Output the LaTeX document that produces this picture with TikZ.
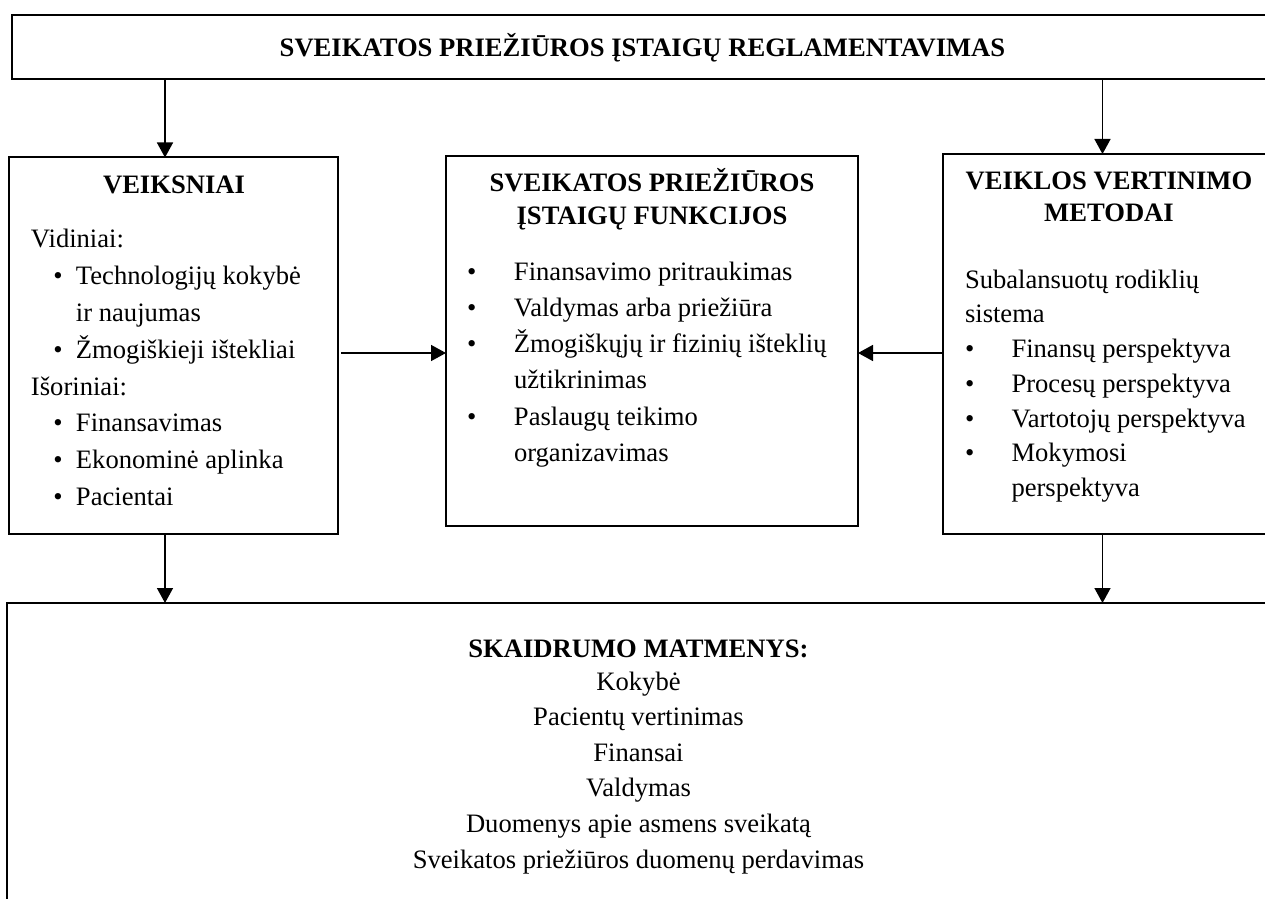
\documentclass[tikz,border=0pt]{standalone}
\usepackage{fontspec}
\setmainfont{Liberation Serif}
\usetikzlibrary{arrows.meta}

\newcommand\bodysize{\fontsize{13.3pt}{17.75pt}\selectfont}
% stacked lines with a fixed baseline distance (first line is the baseline of the box)
\newcommand\rowsL[2]{\vtop{\baselineskip=#1\lineskiplimit=-30pt\lineskip=0pt\halign{##\hfil\cr#2\crcr}}}
\newcommand\rowsC[2]{\vtop{\baselineskip=#1\lineskiplimit=-30pt\lineskip=0pt\halign{\hfil##\hfil\cr#2\crcr}}}
% bullet: indent, then bullet in a slot of given width
\newcommand\bitem[2]{\kern#1\makebox[#2][l]{\textbullet}}

\tikzset{
  box/.style={draw, line width=1pt, inner sep=0pt, outer sep=0pt, anchor=north west},
  conn/.style={line width=0.75pt, -{Triangle[length=7.5pt,width=8pt]}},
  txt/.style={inner sep=0pt, outer sep=0pt, font=\bodysize},
  head/.style={txt, font=\bodysize\bfseries},
}

\begin{document}
\begin{tikzpicture}[x=0.5pt, y=-0.5pt]
\useasboundingbox (0,0) rectangle (1265,899);
\clip (0,0) rectangle (1265,899);

% frames
\node[box, minimum width=634pt, minimum height=32pt] (top) at (12,15) {};
\node[box, minimum width=164.5pt, minimum height=188.25pt] (left) at (9,157.5) {};
\node[box, minimum width=206pt, minimum height=185pt] (mid) at (446,156) {};
\node[box, minimum width=168.5pt, minimum height=190pt] (right) at (943,154) {};
\node[box, line width=1.2pt, minimum width=636.5pt, minimum height=163.5pt] (bottom) at (7,603) {};

% header
\node[head, anchor=base] (toptxt) at (642.5,56.7)
  {SVEIKATOS PRIEŽIŪROS ĮSTAIGŲ REGLAMENTAVIMAS};

% factors
\node[head, anchor=base] (lefttitle) at (174,193) {VEIKSNIAI};
\node[txt, anchor=base west] (leftlist) at (31,248) {\rowsL{18.4pt}{%
  Vidiniai:\cr
  \bitem{11.25pt}{11.25pt}Technologijų kokybė\cr
  \kern22.5pt ir naujumas\cr
  \bitem{11.25pt}{11.25pt}Žmogiškieji ištekliai\cr
  Išoriniai:\cr
  \bitem{11.25pt}{11.25pt}Finansavimas\cr
  \bitem{11.25pt}{11.25pt}Ekonominė aplinka\cr
  \bitem{11.25pt}{11.25pt}Pacientai}};

% functions
\node[head, anchor=base] (midtitle) at (652,191.7)
  {\rowsC{16.65pt}{SVEIKATOS PRIEŽIŪROS\cr ĮSTAIGŲ FUNKCIJOS}};
\node[txt, anchor=base west] (midlist) at (467,280) {\rowsL{18.15pt}{%
  \bitem{0pt}{23.5pt}Finansavimo pritraukimas\cr
  \bitem{0pt}{23.5pt}Valdymas arba priežiūra\cr
  \bitem{0pt}{23.5pt}Žmogiškųjų ir fizinių išteklių\cr
  \kern23.5pt užtikrinimas\cr
  \bitem{0pt}{23.5pt}Paslaugų teikimo\cr
  \kern23.5pt organizavimas}};

% evaluation methods
\node[head, anchor=base] (righttitle) at (1109,190)
  {\rowsC{15.85pt}{VEIKLOS VERTINIMO\cr METODAI}};
\node[txt, anchor=base west] (rightlist) at (965,288) {\rowsL{17.4pt}{%
  Subalansuotų rodiklių\cr
  sistema\cr
  \bitem{0pt}{23.25pt}Finansų perspektyva\cr
  \bitem{0pt}{23.25pt}Procesų perspektyva\cr
  \bitem{0pt}{23.25pt}Vartotojų perspektyva\cr
  \bitem{0pt}{23.25pt}Mokymosi\cr
  \kern23.25pt perspektyva}};

% transparency dimensions
\node[head, anchor=base] (bottitle) at (638.5,657) {SKAIDRUMO MATMENYS:};
\node[txt, anchor=base] (botlist) at (638.5,690) {\rowsC{17.8pt}{%
  Kokybė\cr
  Pacientų vertinimas\cr
  Finansai\cr
  Valdymas\cr
  Duomenys apie asmens sveikatą\cr
  Sveikatos priežiūros duomenų perdavimas}};

% connectors
\coordinate (xl) at (165,0);
\coordinate (xr) at (1102.5,0);
\coordinate (ym) at (0,353);
\draw[conn] (top.south -| xl) -- (left.north -| xl);
\draw[conn] (top.south -| xr) -- (right.north -| xr);
\draw[conn] ([xshift=1.5pt]left.east |- ym) -- (mid.west |- ym);
\draw[conn] (right.west |- ym) -- (mid.east |- ym);
\draw[conn] (left.south -| xl) -- (bottom.north -| xl);
\draw[conn] (right.south -| xr) -- (bottom.north -| xr);
\end{tikzpicture}
\end{document}
